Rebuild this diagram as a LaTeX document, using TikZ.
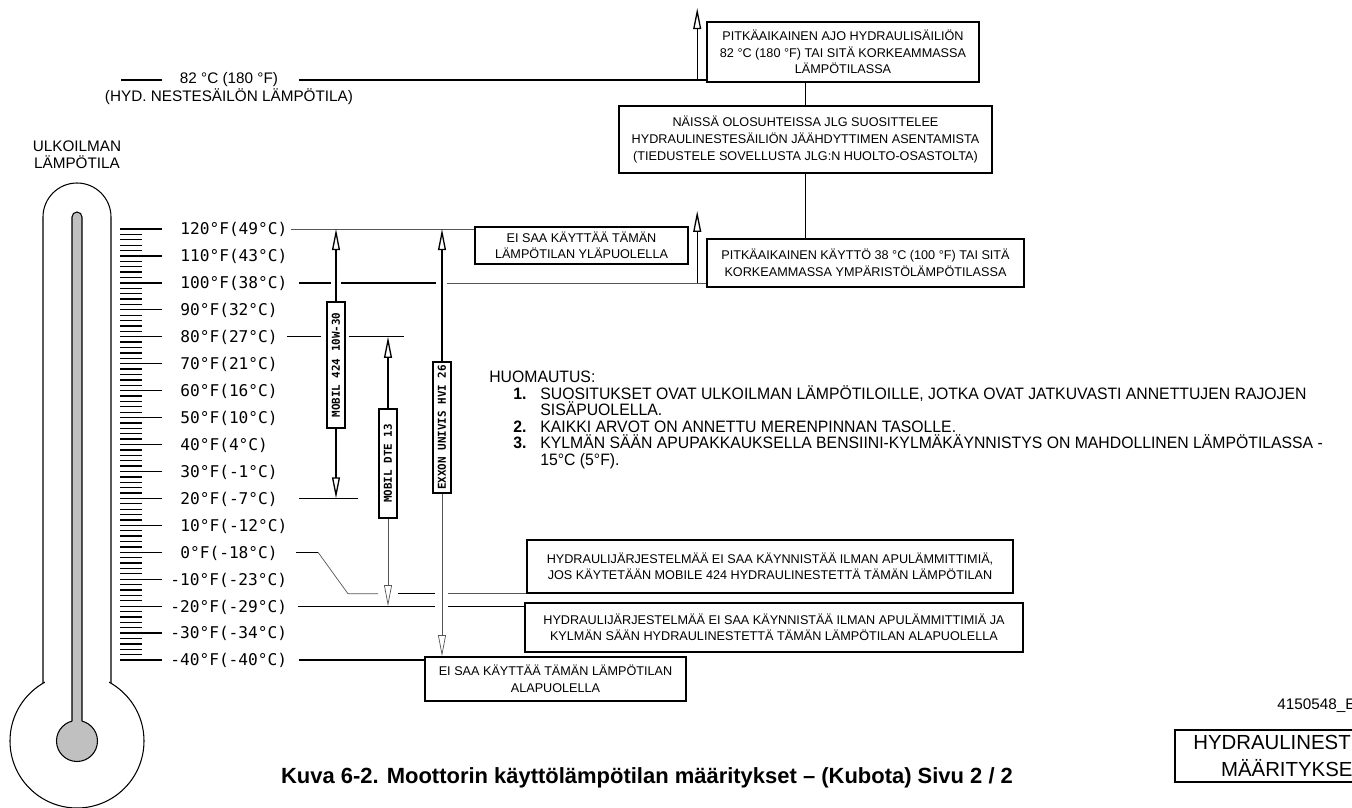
\documentclass[tikz,border=0pt]{standalone}
\usepackage{fontspec}
\setmainfont{Liberation Sans}
\newfontfamily\cadfont{DejaVu Sans Mono}
\newfontfamily\notefont[FakeStretch=0.955]{Liberation Sans}
\usetikzlibrary{arrows.meta,calc}
\definecolor{tubegray}{HTML}{C0C0C0}
\definecolor{faint}{HTML}{555555}
\newcommand\bigtext{\fontsize{8.7}{9.6}\selectfont}
\newcommand\boxtext{\fontsize{7.2}{9.4}\selectfont}
\newcommand\notetext{\notefont\fontsize{9.4}{10}\selectfont}
\tikzset{
  tbox/.style={draw,line width=0.9pt,fill=white,align=center,inner sep=0pt,font=\boxtext},
  tlabel/.style={font=\cadfont\fontsize{9.2}{10}\selectfont,inner sep=0pt,anchor=west,
    text height=6.7pt,text depth=0pt},
  oilbar/.style={draw,line width=0.9pt,fill=white,rotate=90,inner sep=0pt,minimum height=3.6mm,
    font=\cadfont\bfseries\fontsize{6.2}{7}\selectfont},
  level/.style={line width=0.75pt},
  thinlevel/.style={line width=0.4pt,draw=faint},
  oilarrow/.style={-{Triangle[open,length=12pt,width=4.5pt]},line width=0.75pt},
  tick/.style={line width=0.75pt},
  thermo/.style={line width=0.6pt},
  note/.style={font=\notetext,inner sep=0pt,anchor=base west}
}

\begin{document}
\begin{tikzpicture}[x=0.2mm,y=-0.2mm]
  \useasboundingbox (0,0) rectangle (1352,808);
  \clip (0,0) rectangle (1352,808);

  % thermometer
  \draw[thermo] (77,741) circle[radius=67];
  \fill[white] (45,668) rectangle (109,690);
  \draw[thermo] (43,683) -- (43,217) arc[start angle=180,end angle=360,radius=34] -- (111,683);
  \filldraw[thermo,fill=tubegray] (77,741) circle[radius=20.5];
  \fill[tubegray] (72,725) -- (72,217) arc[start angle=180,end angle=360,radius=5] -- (82,725) -- cycle;
  \draw[thermo] (72,721.3) -- (72,217) arc[start angle=180,end angle=360,radius=5] -- (82,721.3);
  \node[font=\bigtext,align=center] (outside) at (77,154.5) {ULKOILMAN\\LÄMPÖTILA};

  % scale
  \foreach \i in {0,...,80}
    \draw[tick] (120,{229+\i*5.388}) -- ++(22,0);
  \foreach \t in {120,110,...,-40}
    \draw[tick] (120,{229+(120-\t)*2.694}) -- ++(42,0);
  \foreach \t/\c in {120/49,110/43,100/38,90/32,80/27,70/21,60/16,50/10,40/4,30/-1,
                     20/-7,10/-12,0/-18,-10/-23,-20/-29,-30/-34,-40/-40}
    \node[tlabel] (t\t) at ({ifthenelse(\t<0,170,180)},{229+(120-\t)*2.694}) {\t°F(\c°C)};

  % tank temperature
  \node[font=\bigtext,inner sep=0pt] (hydval) at (229,80) {82 °C (180 °F)};
  \node[font=\bigtext,inner sep=0pt] (hydname) at (229,97) {(HYD. NESTESÄILÖN LÄMPÖTILA)};

  % boxes
  \node[tbox,minimum width=54.4mm,minimum height=12mm] (boxA) at (843,52)
    {PITKÄAIKAINEN AJO HYDRAULISÄILIÖN\\82 °C (180 °F) TAI SITÄ KORKEAMMASSA\\LÄMPÖTILASSA};
  \node[tbox,minimum width=74.6mm,minimum height=13.4mm] (boxB) at (805.5,139.5)
    {NÄISSÄ OLOSUHTEISSA JLG SUOSITTELEE\\HYDRAULINESTESÄILIÖN JÄÄHDYTTIMEN ASENTAMISTA\\(TIEDUSTELE SOVELLUSTA JLG:N HUOLTO-OSASTOLTA)};
  \node[tbox,minimum width=63.4mm,minimum height=9.6mm] (boxC) at (865.5,263)
    {PITKÄAIKAINEN KÄYTTÖ 38 °C (100 °F) TAI SITÄ\\KORKEAMMASSA YMPÄRISTÖLÄMPÖTILASSA};
  \node[tbox,minimum width=42.6mm,minimum height=7.4mm] (boxD) at (581.5,245.5)
    {EI SAA KÄYTTÄÄ TÄMÄN\\LÄMPÖTILAN YLÄPUOLELLA};
  \node[tbox,minimum width=97.2mm,minimum height=10.6mm] (boxE) at (770,566.5)
    {HYDRAULIJÄRJESTELMÄÄ EI SAA KÄYNNISTÄÄ ILMAN APULÄMMITTIMIÄ,\\JOS KÄYTETÄÄN MOBILE 424 HYDRAULINESTETTÄ TÄMÄN LÄMPÖTILAN};
  \node[tbox,minimum width=99.6mm,minimum height=9.8mm] (boxF) at (774,627.5)
    {HYDRAULIJÄRJESTELMÄÄ EI SAA KÄYNNISTÄÄ ILMAN APULÄMMITTIMIÄ JA\\KYLMÄN SÄÄN HYDRAULINESTETTÄ TÄMÄN LÄMPÖTILAN ALAPUOLELLA};
  \node[tbox,minimum width=52.2mm,minimum height=8.8mm] (boxG) at (555.5,679)
    {EI SAA KÄYTTÄÄ TÄMÄN LÄMPÖTILAN\\ALAPUOLELLA};

  % oil bars
  \node[oilbar,minimum width=25.2mm] (m424) at (336,365) {MOBIL 424 10W-30};
  \node[oilbar,minimum width=21.8mm] (dte13) at (388,463.5) {MOBIL DTE 13};
  \node[oilbar,minimum width=26.2mm] (univis) at (442,427.5) {EXXON UNIVIS HVI 26};

  % 82 C line
  \draw[level] ([shift={(-18,0)}]hydval.west) -- ++(-41,0);
  \draw[level] ([shift={(21,0)}]hydval.east) -- (hydval.east -| boxA.west);
  \draw[oilarrow] ($(hydval.east -| boxA.west)+(-9,0)$) -- ++(0,-72);
  \draw[level] (boxB.north) -- (boxB.north |- boxA.south);
  \draw[level] (boxB.south) -- (boxB.south |- boxC.north);

  % level lines
  \draw[thinlevel] ([shift={(3,0)}]t120.east) -- (t120.east -| boxD.west);
  \draw[level] ([shift={(11,0)}]t100.east) -- ($(t100.east -| m424.center)+(-5,0)$);
  \draw[level] ($(t100.east -| m424.center)+(5,0)$) -- ($(t100.east -| univis.center)+(-6,0)$);
  \draw[thinlevel] ($(t100.east -| univis.center)+(5,0)$) -- (t100.east -| boxC.west);
  \draw[oilarrow] ($(t100.east -| boxC.west)+(-9,0)$) -- ++(0,-72);
  \draw[level] ([shift={(9,0)}]t80.east) -- ($(t80.east -| m424.center)+(-15,0)$);
  \draw[level] ($(t80.east -| m424.center)+(13,0)$) -- ($(t80.east -| dte13.center)+(16,0)$);
  \draw[level] ([shift={(21,0)}]t20.east) -- ($(t20.east -| m424.center)+(22,0)$);
  \draw[level] ([shift={(18,0)}]t0.east) -- ++(22,0) coordinate (bend0);
  \draw[thinlevel] (bend0) -- ($(boxE.south west -| bend0)+(30,0)$)
    -- ($(boxE.south west -| dte13.center)+(-10,0)$);
  \draw[level] ($(boxE.south west -| dte13.center)+(10,0)$) -- ($(boxE.south west -| univis.center)+(-7,0)$);
  \draw[thinlevel] ($(boxE.south west -| univis.center)+(6,0)$) -- (boxE.south west);
  \draw[level] ([shift={(10,0)}]t-20.east) -- ($(t-20.east -| univis.center)+(-7,0)$);
  \draw[level] ($(t-20.east -| univis.center)+(6,0)$) -- (t-20.east -| boxF.west);
  \draw[level] ([shift={(11,0)}]t-40.east) -- (t-40.east -| boxG.west);

  % oil ranges
  \draw[oilarrow] (m424.east) -- (m424.east |- t120.east);
  \draw[oilarrow] (m424.west) -- (m424.west |- t20.east);
  \draw[oilarrow] (dte13.east) -- (dte13.east |- t80.east);
  \draw[oilarrow,thinlevel] (dte13.west) -- (dte13.west |- t-20.east);
  \draw[oilarrow] (univis.east) -- (univis.east |- t120.east);
  \draw[oilarrow,thinlevel] (univis.west) -- (univis.west |- boxG.north);

  % notes
  \node[note] (nhead) at (489,382.5) {HUOMAUTUS:};
  \node[note,font=\notetext\bfseries] (n1no) at (513,399.5) {1.};
  \node[note] (n1) at (540,399.5) {SUOSITUKSET OVAT ULKOILMAN LÄMPÖTILOILLE, JOTKA OVAT JATKUVASTI ANNETTUJEN RAJOJEN};
  \node[note] (n1b) at (540,415.5) {SISÄPUOLELLA.};
  \node[note,font=\notetext\bfseries] (n2no) at (513,432.5) {2.};
  \node[note] (n2) at (540,432.5) {KAIKKI ARVOT ON ANNETTU MERENPINNAN TASOLLE.};
  \node[note,font=\notetext\bfseries] (n3no) at (513,448.5) {3.};
  \node[note] (n3) at (540,448.5) {KYLMÄN SÄÄN APUPAKKAUKSELLA BENSIINI-KYLMÄKÄYNNISTYS ON MAHDOLLINEN LÄMPÖTILASSA -};
  \node[note] (n3b) at (540,465.5) {15°C (5°F).};

  % footer
  \node[font=\bigtext,anchor=west,inner sep=0pt] (drawno) at (1277,706) {4150548\_E};
  \node[tbox,font=\fontsize{11.6}{15.3}\selectfont,minimum width=47.2mm,minimum height=10.4mm] (boxH) at (1293,756)
    {HYDRAULINESTEEN\\MÄÄRITYKSET};
  \node[font=\bfseries\fontsize{12.5}{14}\selectfont] (caption) at (647,778)
    {Kuva 6-2. Moottorin käyttölämpötilan määritykset – (Kubota) Sivu 2 / 2};
\end{tikzpicture}
\end{document}
